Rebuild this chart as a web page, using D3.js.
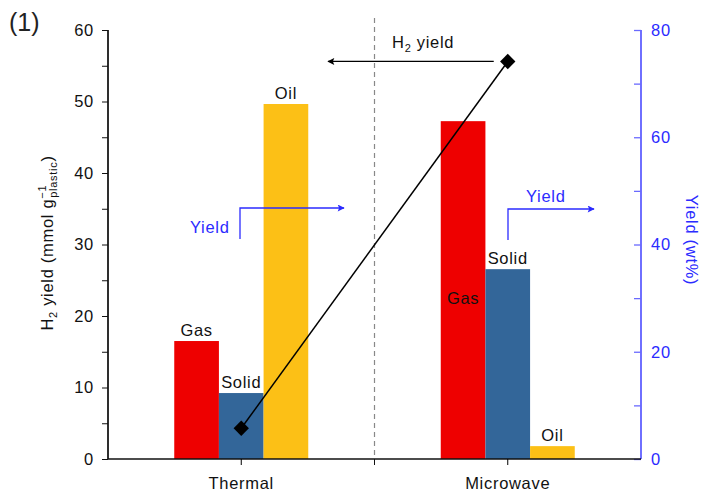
<!DOCTYPE html>
<html>
<head>
<meta charset="utf-8">
<script src="https://cdn.jsdelivr.net/npm/d3@7"></script>
<style>
  body { margin: 0; background: #fff; }
  svg { display: block; }
  text { font-family: "Liberation Sans", Arial, sans-serif; letter-spacing: 0.7px; }
</style>
</head>
<body>
<svg id="chart" width="702" height="495"></svg>
<script>
// Heating methods on the x axis
const methods = ["Thermal", "Microwave"];
// Product fractions (wt%, right axis)
const fractions = ["Gas", "Solid", "Oil"];
const gasYield = [22, 63];
const solidYield = [12.3, 35.4];
const oilYield = [66.2, 2.4];
// H2 yield (mmol per g plastic, left axis)
const h2Yield = [4.3, 55.6];
// Axis ticks
const leftTicks = [0, 10, 20, 30, 40, 50, 60];
const leftMinor = [5, 15, 25, 35, 45, 55];
const rightTicks = [0, 20, 40, 60, 80];
const rightMinor = [10, 30, 50, 70];

const colors = { Gas: "#ee0000", Solid: "#336699", Oil: "#fcc016" };
const blue = "#2b2bff";
const FS = 16.5;

const svg = d3.select("#chart");
const m = { left: 108, right: 641, top: 30, bottom: 459 };

const x = d3.scaleBand().domain(methods).range([m.left, m.right]).padding(0);
const inner = d3.scaleBand().domain(fractions).range([0, 134]).padding(0);
const yL = d3.scaleLinear().domain([0, 60]).range([m.bottom, m.top]);
const yR = d3.scaleLinear().domain([0, 80]).range([m.bottom, m.top]);

const rows = methods.map((k, i) => ({
  method: k,
  values: { Gas: gasYield[i], Solid: solidYield[i], Oil: oilYield[i] }
}));

// Divider between the two methods
svg.append("line")
  .attr("x1", m.left + x.step()).attr("x2", m.left + x.step())
  .attr("y1", 18).attr("y2", m.bottom)
  .attr("stroke", "#888").attr("stroke-width", 1.2)
  .attr("stroke-dasharray", "5,4");

// Bars
const groups = svg.selectAll("g.grp").data(rows).join("g")
  .attr("class", "grp")
  .attr("transform", d => `translate(${x(d.method) + x.bandwidth() / 2 - 67},0)`);

groups.selectAll("rect").data(d => fractions.map(f => ({ f, v: d.values[f], method: d.method })))
  .join("rect")
  .attr("x", d => inner(d.f))
  .attr("width", inner.bandwidth())
  .attr("y", d => yR(d.v))
  .attr("height", d => yR(0) - yR(d.v))
  .attr("fill", d => colors[d.f]);

// Bar labels
groups.selectAll("text.lab").data(d => fractions.map(f => ({ f, v: d.values[f], method: d.method })))
  .join("text")
  .attr("class", "lab")
  .attr("x", d => inner(d.f) + inner.bandwidth() / 2)
  .attr("y", d => (d.method === "Microwave" && d.f === "Gas") ? yR(d.v) + 183 : yR(d.v) - 5)
  .attr("text-anchor", "middle")
  .attr("font-size", FS)
  .attr("fill", "#111")
  .text(d => d.f);

// Left axis
const gL = svg.append("g").attr("transform", `translate(${m.left},0)`);
gL.call(d3.axisLeft(yL).tickValues(leftTicks).tickSize(6).tickPadding(8));
gL.append("g").call(d3.axisLeft(yL).tickValues(leftMinor).tickSize(6).tickFormat(""));
gL.selectAll(".domain").attr("d", `M0,${m.top}V${m.bottom}`).attr("stroke", "#111").attr("stroke-width", 1.3);
gL.selectAll("line").attr("stroke", "#111");
gL.selectAll("text").attr("font-size", FS).attr("fill", "#111")
  .attr("font-family", "Liberation Sans, Arial, sans-serif");

// Right axis
const gR = svg.append("g").attr("transform", `translate(${m.right},0)`);
gR.call(d3.axisRight(yR).tickValues(rightTicks).tickSize(-7).tickPadding(10));
gR.append("g").call(d3.axisRight(yR).tickValues(rightMinor).tickSize(-7).tickFormat(""));
gR.selectAll(".domain").attr("d", `M0,${m.top}V${m.bottom}`).attr("stroke", "#6a6aff").attr("stroke-width", 1.6);
gR.selectAll("line").attr("stroke", "#6a6aff").attr("stroke-width", 1.3);
gR.selectAll("text").attr("font-size", FS).attr("fill", blue)
  .attr("font-family", "Liberation Sans, Arial, sans-serif");

// Bottom axis
const gB = svg.append("g").attr("transform", `translate(0,${m.bottom})`);
gB.call(d3.axisBottom(x).tickSize(6).tickPadding(12));
gB.selectAll(".domain").attr("d", `M${m.left},0H${m.right}`).attr("stroke", "#111").attr("stroke-width", 1.5);
gB.selectAll("text").attr("font-size", FS).attr("fill", "#111")
  .attr("font-family", "Liberation Sans, Arial, sans-serif");
gB.append("line").attr("x1", m.left + x.step()).attr("x2", m.left + x.step())
  .attr("y1", 0).attr("y2", 6).attr("stroke", "#111");

// H2 yield line and markers
const pts = methods.map((k, i) => [x(k) + x.bandwidth() / 2, yL(h2Yield[i])]);
svg.append("path")
  .attr("d", d3.line()(pts))
  .attr("stroke", "#000").attr("stroke-width", 1.5).attr("fill", "none");
svg.selectAll("path.mk").data(pts).join("path")
  .attr("class", "mk")
  .attr("d", d3.symbol(d3.symbolDiamond2, 150))
  .attr("transform", d => `translate(${d[0]},${d[1]})`)
  .attr("fill", "#000");

// Arrow markers
const defs = svg.append("defs");
defs.append("marker").attr("id", "ahK").attr("viewBox", "0 0 10 10")
  .attr("refX", 9).attr("refY", 5).attr("markerWidth", 9).attr("markerHeight", 7)
  .attr("markerUnits", "userSpaceOnUse").attr("orient", "auto")
  .append("path").attr("d", "M0,0L10,5L0,10L2,5Z").attr("fill", "#000");
defs.append("marker").attr("id", "ahB").attr("viewBox", "0 0 10 10")
  .attr("refX", 9).attr("refY", 5).attr("markerWidth", 9).attr("markerHeight", 7)
  .attr("markerUnits", "userSpaceOnUse").attr("orient", "auto")
  .append("path").attr("d", "M0,0L10,5L0,10L2,5Z").attr("fill", blue);

// "H2 yield" pointer to the left axis
const hy = pts[1][1];
svg.append("line").attr("x1", pts[1][0] - 14).attr("x2", 328)
  .attr("y1", hy).attr("y2", hy)
  .attr("stroke", "#000").attr("stroke-width", 1.3).attr("marker-end", "url(#ahK)");
const h2t = svg.append("text").attr("x", 392).attr("y", 48).attr("font-size", FS).attr("fill", "#111");
h2t.append("tspan").text("H");
h2t.append("tspan").attr("font-size", 11).attr("dy", 4).text("2");
h2t.append("tspan").attr("dy", -4).text(" yield");

// "Yield" pointers to the right axis
const yieldPointers = [
  { tx: 190, ty: 233, vx: 240, y0: 239, y1: 208, x2: 344 },
  { tx: 526, ty: 202, vx: 508, y0: 240, y1: 209, x2: 594 }
];
yieldPointers.forEach(p => {
  svg.append("path")
    .attr("d", `M${p.vx},${p.y0}V${p.y1}H${p.x2}`)
    .attr("fill", "none").attr("stroke", blue).attr("stroke-width", 1.3)
    .attr("marker-end", "url(#ahB)");
  svg.append("text").attr("x", p.tx).attr("y", p.ty)
    .attr("font-size", FS).attr("fill", blue).text("Yield");
});

// Axis titles
const lt = svg.append("text")
  .attr("transform", `translate(53,243) rotate(-90)`)
  .attr("text-anchor", "middle").attr("font-size", FS).attr("fill", "#111");
lt.append("tspan").text("H");
lt.append("tspan").attr("font-size", 11).attr("dy", 4).text("2");
lt.append("tspan").attr("dy", -4).text(" yield (mmol g");
lt.append("tspan").attr("font-size", 11).attr("dy", -7).text("−1");
lt.append("tspan").attr("font-size", 11).attr("dx", -13).attr("dy", 11).text("plastic");
lt.append("tspan").attr("dy", -4).text(")");

svg.append("text")
  .attr("transform", `translate(686,240) rotate(90)`)
  .attr("text-anchor", "middle").attr("font-size", FS).attr("fill", blue)
  .text("Yield (wt%)");

// Panel label
svg.append("text").attr("x", 9).attr("y", 31)
  .attr("font-family", "Open Sans, sans-serif").attr("font-size", 25).attr("fill", "#222")
  .style("letter-spacing", "0px")
  .text("(1)");
</script>
</body>
</html>
